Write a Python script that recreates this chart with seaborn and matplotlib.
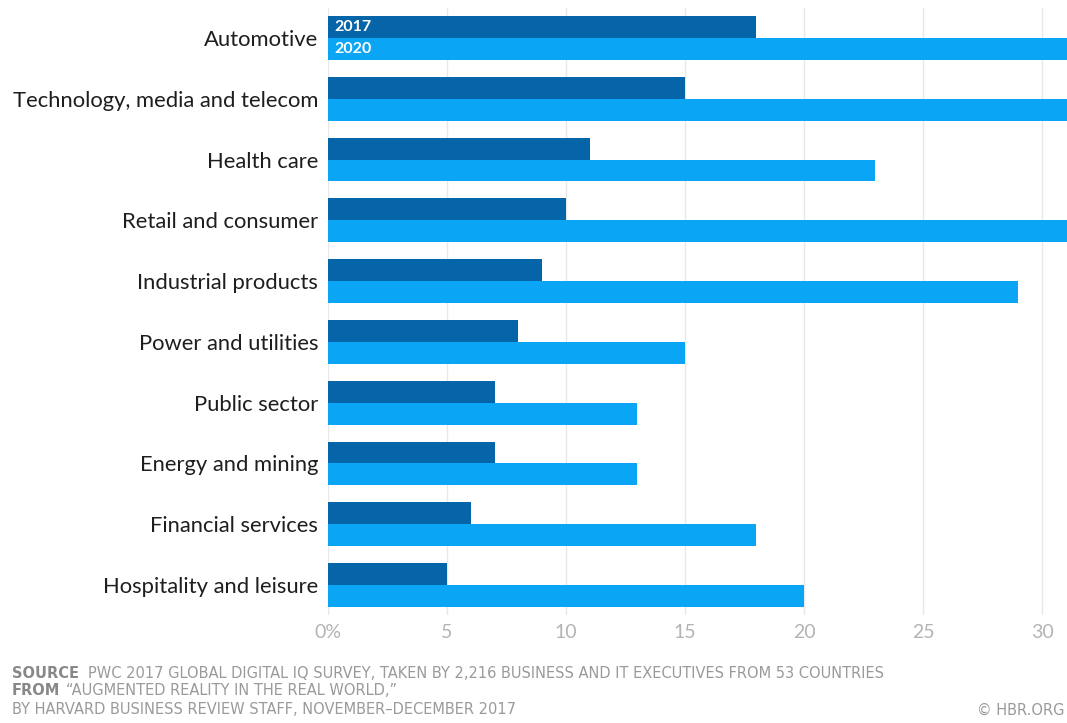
import pandas as pd
import seaborn as sns
import matplotlib.pyplot as plt

categories = ['Automotive', 'Technology, media and telecom', 'Health care',
              'Retail and consumer', 'Industrial products', 'Power and utilities',
              'Public sector', 'Energy and mining', 'Financial services',
              'Hospitality and leisure']
v2017 = [18, 15, 11, 10, 9, 8, 7, 7, 6, 5]
v2020 = [34, 33, 23, 32, 29, 15, 13, 13, 18, 20]
years = ['2017', '2020']
colors = ['#0565a8', '#0aa6f5']
xticks = [0, 5, 10, 15, 20, 25, 30]
xticklabels = ['0%', '5', '10', '15', '20', '25', '30']

df = pd.DataFrame({
    'category': categories * 2,
    'value': v2017 + v2020,
    'year': [years[0]] * len(categories) + [years[1]] * len(categories),
})

sns.set_style('white')
plt.rcParams['font.family'] = ['Lato', 'DejaVu Sans']

fig = plt.figure(figsize=(10.67, 7.23), dpi=100)
ax = fig.add_axes([0.3074, 0.1488, 0.6926, 0.8407])

sns.barplot(data=df, y='category', x='value', hue='year', palette=colors,
            orient='h', width=0.72, dodge=True, saturation=1, linewidth=0,
            ax=ax, legend=False)

ax.set_xlim(0, 31.05)
ax.set_ylim(9.5, -0.5)
ax.set_xticks(xticks)
ax.set_xticklabels(xticklabels, color='#b4b4b4', fontsize=14)
ax.tick_params(axis='x', length=0, pad=6)
ax.tick_params(axis='y', length=0, pad=7, labelsize=15.8, labelcolor='#1e1e1e')
ax.set_xlabel('')
ax.set_ylabel('')
ax.grid(axis='x', color='#e8e8e8', linewidth=1)
ax.set_axisbelow(True)
for s in ax.spines.values():
    s.set_visible(False)

# legend labels written inside the first pair of bars
for i, yr in enumerate(years):
    bar = ax.containers[i][0]
    yc = bar.get_y() + bar.get_height() / 2
    ax.text(0.25, yc, yr, color='white', fontsize=11.5, fontweight='bold',
            va='center', ha='left')

gray = '#9a9a9a'
foot = dict(fontsize=10.5, color=gray, family='DejaVu Sans')
fig.text(0.011, 0.0625, 'SOURCE', fontweight='bold', **{**foot, 'color': '#888888'})
fig.text(0.0825, 0.0625, 'PWC 2017 GLOBAL DIGITAL IQ SURVEY, TAKEN BY 2,216 BUSINESS AND IT EXECUTIVES FROM 53 COUNTRIES',
         **foot)
fig.text(0.011, 0.039, 'FROM', fontweight='bold', **{**foot, 'color': '#888888'})
fig.text(0.062, 0.039, '\u201cAUGMENTED REALITY IN THE REAL WORLD,\u201d', **foot)
fig.text(0.011, 0.012, 'BY HARVARD BUSINESS REVIEW STAFF, NOVEMBER\u2013DECEMBER 2017', **foot)
fig.text(0.998, 0.012, '\u00a9 HBR.ORG', ha='right', **foot)

fig.savefig('out.png', dpi=100)
